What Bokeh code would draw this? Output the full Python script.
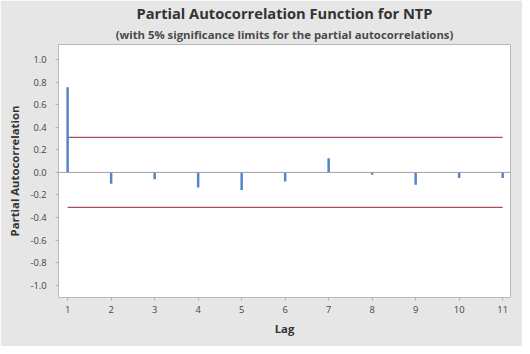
from bokeh.plotting import figure
from bokeh.models import Title, FixedTicker, Span
from bokeh.embed import file_html
from bokeh.resources import INLINE

lags = [1, 2, 3, 4, 5, 6, 7, 8, 9, 10, 11]
pacf = [0.755, -0.10, -0.06, -0.135, -0.155, -0.08, 0.125, -0.02, -0.11, -0.05, -0.05]
limit = 0.31
y_ticks = [-1.0, -0.8, -0.6, -0.4, -0.2, 0.0, 0.2, 0.4, 0.6, 0.8, 1.0]

FONT = "Open Sans"
BG = "#e6e6e6"

p = figure(width=522, height=346, output_backend="svg", toolbar_location=None,
           x_range=(0.79, 11.18), y_range=(-1.11, 1.135),
           min_border_left=58, min_border_right=12, min_border_top=0, min_border_bottom=49)
p.background_fill_color = "white"
p.border_fill_color = BG
p.outline_line_color = "#b8b8b8"
p.grid.visible = False

p.add_layout(Title(text="(with 5% significance limits for the partial autocorrelations)",
                   align="center", text_font=FONT, text_font_size="8.5pt",
                   text_font_style="bold", text_color="#4a4a4a", standoff=5), "above")
p.add_layout(Title(text="Partial Autocorrelation Function for NTP", align="center",
                   text_font=FONT, text_font_size="11pt", text_font_style="bold",
                   text_color="#333333", standoff=0), "above")

# zero line and significance limits
p.add_layout(Span(location=0, dimension="width", line_color="#a0a0a0", line_width=1))
p.line([lags[0], lags[-1]], [limit, limit], line_color="#a8505a", line_width=1.3)
p.line([lags[0], lags[-1]], [-limit, -limit], line_color="#a8505a", line_width=1.3)

p.segment(x0=lags, y0=[0] * len(lags), x1=lags, y1=pacf,
          line_color="#5585c8", line_width=2.5)

p.xaxis.ticker = FixedTicker(ticks=lags)
p.yaxis.ticker = FixedTicker(ticks=y_ticks)
p.yaxis.major_label_overrides = {t: f"{t:.1f}" for t in y_ticks}
p.xaxis.axis_label = "Lag"
p.yaxis.axis_label = "Partial Autocorrelation"
for ax in (p.xaxis, p.yaxis):
    ax.axis_line_color = None
    ax.major_tick_line_color = "#b0b0b0"
    ax.minor_tick_line_color = None
    ax.major_tick_in = 0
    ax.major_tick_out = 3
    ax.major_label_text_font = FONT
    ax.major_label_text_font_size = "7pt"
    ax.major_label_text_color = "#444444"
    ax.axis_label_text_font = FONT
    ax.axis_label_text_font_size = "8.5pt"
    ax.axis_label_text_font_style = "bold"
    ax.axis_label_text_color = "#333333"
p.yaxis.major_label_standoff = 9

open("out.html", "w").write(file_html(p, INLINE))
